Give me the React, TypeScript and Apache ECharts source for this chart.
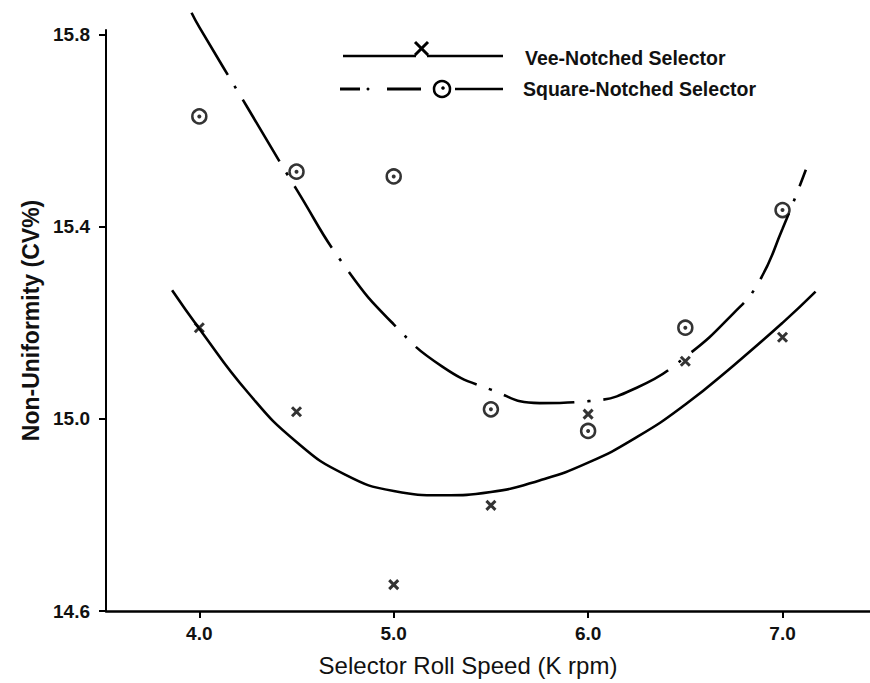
import React, { useEffect, useRef } from "react";
import * as echarts from "echarts";

// Measured points
const speeds = [4.0, 4.5, 5.0, 5.5, 6.0, 6.5, 7.0];
const veeCV = [15.19, 15.015, 14.655, 14.82, 15.01, 15.12, 15.17];
const squareCV = [15.63, 15.515, 15.505, 15.02, 14.975, 15.19, 15.435];

// Fitted curves
const veeFitX = [3.86, 4.0, 4.25, 4.5, 4.75, 5.0, 5.25, 5.5, 5.75, 6.0, 6.25, 6.5, 6.75, 7.0, 7.17];
const veeFitY = [15.268, 15.188, 15.055, 14.952, 14.884, 14.85, 14.841, 14.848, 14.872, 14.909, 14.962, 15.03, 15.112, 15.2, 15.265];
const sqFitX = [3.96, 4.0, 4.25, 4.5, 4.75, 5.0, 5.25, 5.5, 5.75, 6.0, 6.25, 6.5, 6.75, 6.875, 7.0, 7.12];
const sqFitY = [15.846, 15.816, 15.647, 15.478, 15.317, 15.197, 15.109, 15.061, 15.033, 15.037, 15.065, 15.129, 15.221, 15.283, 15.396, 15.519];

// Tick labels
const xTicks = [4.0, 5.0, 6.0, 7.0];
const yTicks = [14.6, 15.0, 15.4, 15.8];

const seriesNames = ["Vee-Notched Selector", "Square-Notched Selector"];
const xTitle = "Selector Roll Speed (K rpm)";
const yTitle = "Non-Uniformity (CV%)";

const FONT = "Liberation Sans";

export default function App() {
  const ref = useRef<HTMLDivElement>(null);
  useEffect(() => {
    if (!ref.current) return;
    const chart = echarts.init(ref.current, undefined, { renderer: "svg" });
    const zip = (xs: number[], ys: number[]) => xs.map((x, i) => [x, ys[i]]);
    const option: any = {
      animation: false,
      backgroundColor: "#fff",
      grid: { left: 106, right: 0, top: 30, bottom: 72, containLabel: false, outerBoundsMode: "none" },
      xAxis: {
        type: "value",
        min: 3.52,
        max: 7.45,
        name: xTitle,
        nameLocation: "middle",
        nameGap: 42,
        nameTextStyle: { fontFamily: FONT, fontSize: 24, color: "#111", padding: [0, 40, 0, 0] },
        axisLine: { lineStyle: { color: "#000", width: 2.5 } },
        axisTick: { customValues: xTicks, length: 7, lineStyle: { color: "#000", width: 2 } },
        axisLabel: {
          customValues: xTicks,
          formatter: (v: number) => v.toFixed(1),
          fontFamily: FONT,
          fontSize: 19,
          fontWeight: "bold",
          color: "#111",
          margin: 13,
        },
        splitLine: { show: false },
      },
      yAxis: {
        type: "value",
        min: 14.6,
        max: 15.81,
        name: yTitle,
        nameLocation: "middle",
        nameGap: 64,
        nameRotate: 90,
        nameTextStyle: { fontFamily: FONT, fontSize: 23, fontWeight: "bold", color: "#111" },
        axisLine: { show: true, lineStyle: { color: "#000", width: 2 } },
        axisTick: { show: true, customValues: yTicks, length: 7, lineStyle: { color: "#000", width: 2 } },
        axisLabel: {
          customValues: yTicks,
          formatter: (v: number) => v.toFixed(1),
          fontFamily: FONT,
          fontSize: 19,
          fontWeight: "bold",
          color: "#111",
          margin: 16,
        },
        splitLine: { show: false },
      },
      series: [
        {
          name: seriesNames[0] + " fit",
          type: "line",
          data: zip(veeFitX, veeFitY),
          smooth: 0.5,
          showSymbol: false,
          clip: false,
          lineStyle: { color: "#000", width: 2.6 },
          z: 2,
        },
        {
          name: seriesNames[1] + " fit",
          type: "line",
          data: zip(sqFitX, sqFitY),
          smooth: 0.5,
          showSymbol: false,
          clip: false,
          lineStyle: { color: "#000", width: 2.6, type: [72, 13, 3, 13] },
          z: 2,
        },
        {
          name: seriesNames[0],
          type: "scatter",
          data: zip(speeds, veeCV),
          symbol: "path://M0,0L10,10M10,0L0,10",
          symbolSize: 9,
          itemStyle: { color: "none", borderColor: "#000", borderWidth: 3 },
          z: 4,
        },
        {
          name: seriesNames[1],
          type: "scatter",
          data: zip(speeds, squareCV),
          symbol: "circle",
          symbolSize: 14,
          itemStyle: { color: "#fff", borderColor: "#000", borderWidth: 2.5 },
          z: 4,
        },
        {
          name: seriesNames[1] + " centre",
          type: "scatter",
          data: zip(speeds, squareCV),
          symbol: "circle",
          symbolSize: 4,
          itemStyle: { color: "#000" },
          z: 5,
          silent: true,
        },
      ],
      graphic: [
        // Legend row 1
        { type: "line", shape: { x1: 343, y1: 56, x2: 416, y2: 56 }, style: { stroke: "#000", lineWidth: 2.5 } },
        { type: "line", shape: { x1: 415, y1: 42, x2: 428, y2: 55 }, style: { stroke: "#000", lineWidth: 3 } },
        { type: "line", shape: { x1: 428, y1: 42, x2: 415, y2: 55 }, style: { stroke: "#000", lineWidth: 3 } },
        { type: "line", shape: { x1: 427, y1: 56, x2: 503, y2: 56 }, style: { stroke: "#000", lineWidth: 2.5 } },
        {
          type: "text",
          x: 525,
          y: 58,
          style: { text: seriesNames[0], fontFamily: FONT, fontSize: 19.5, fontWeight: "bold", fill: "#111", verticalAlign: "middle" },
        },
        // Legend row 2
        { type: "line", shape: { x1: 340, y1: 89, x2: 360, y2: 89 }, style: { stroke: "#000", lineWidth: 3 } },
        { type: "circle", shape: { cx: 368, cy: 89, r: 1.5 }, style: { fill: "#000" } },
        { type: "line", shape: { x1: 387, y1: 89, x2: 421, y2: 89 }, style: { stroke: "#000", lineWidth: 3 } },
        { type: "circle", shape: { cx: 442, cy: 89, r: 8 }, style: { fill: "none", stroke: "#000", lineWidth: 2.5 } },
        { type: "circle", shape: { cx: 443, cy: 88, r: 1.8 }, style: { fill: "#000" } },
        { type: "line", shape: { x1: 455, y1: 89, x2: 503, y2: 89 }, style: { stroke: "#000", lineWidth: 2.5 } },
        {
          type: "text",
          x: 523,
          y: 89,
          style: { text: seriesNames[1], fontFamily: FONT, fontSize: 19.5, fontWeight: "bold", fill: "#111", verticalAlign: "middle" },
        },
      ],
    };
    chart.setOption(option);
    return () => chart.dispose();
  }, []);
  return (
    <div
      ref={ref}
      style={{ position: "fixed", left: 0, top: 0, width: 870, height: 683, background: "#fff" }}
    />
  );
}
